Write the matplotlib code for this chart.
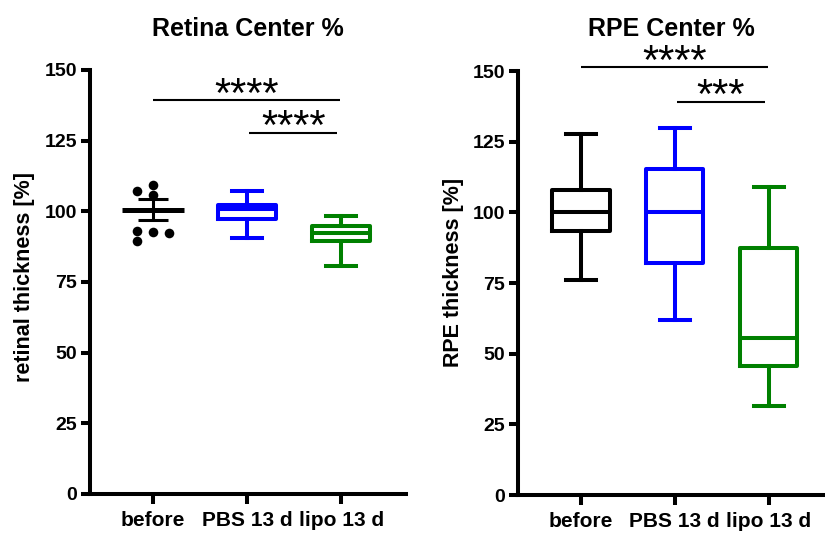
import matplotlib
matplotlib.use("Agg")
import matplotlib.pyplot as plt

plt.rcParams['font.family'] = ['Liberation Sans', 'DejaVu Sans']
plt.rcParams['font.weight'] = 'bold'

# ---- data ----
groups = ["before", "PBS 13 d", "lipo 13 d"]
colors = ["#000000", "#0000FF", "#008000"]

# Retina: individual values of the "before" group (x jitter, value)
retina_before_x = [-0.17, 0.0, 0.0, -0.17, 0.0, 0.17, -0.17]
retina_before_y = [107.3, 109.3, 105.8, 93.0, 92.6, 92.2, 89.5]
retina_before_mean = 100.5
retina_before_sem = 3.7

# Retina boxes for PBS and lipo: whislo, q1, med, q3, whishi
retina_pbs = [90.7, 97.4, 101.0, 102.4, 107.3]
retina_lipo = [80.7, 89.4, 92.5, 94.9, 98.3]

# RPE boxes: whislo, q1, med, q3, whishi
rpe_before = [76.1, 93.4, 100.0, 107.9, 127.6]
rpe_pbs = [61.9, 82.0, 100.0, 115.5, 129.9]
rpe_lipo = [31.5, 45.7, 55.4, 87.5, 109.1]

# significance brackets: (x start, x end, y, label)
retina_sig = [(0, 1.99, 139.3, "****"), (1.02, 1.96, 127.8, "****")]
rpe_sig = [(0, 1.99, 151.4, "****"), (1.02, 1.96, 139.1, "***")]

W, H = 825, 534
fig = plt.figure(figsize=(W / 100, H / 100), dpi=100)

LW = 2.9


def make_axes(rect, xlim):
    ax = fig.add_axes(rect)
    ax.set_xlim(*xlim)
    ax.set_ylim(0, 150)
    for s in ("top", "right"):
        ax.spines[s].set_visible(False)
    for s in ("left", "bottom"):
        ax.spines[s].set_linewidth(LW)
        ax.spines[s].set_capstyle("projecting")
    ax.set_yticks([0, 25, 50, 75, 100, 125, 150])
    ax.set_xticks(range(len(groups)))
    ax.set_xticklabels(groups)
    ax.tick_params(axis="y", length=6.5, width=LW, labelsize=14, pad=3)
    ax.tick_params(axis="x", length=7, width=LW, labelsize=15, pad=5)
    for lab in ax.get_xticklabels() + ax.get_yticklabels():
        lab.set_fontweight("bold")
    ax.patch.set_alpha(0)
    return ax


def box_stats(vals, label):
    lo, q1, med, q3, hi = vals
    return dict(whislo=lo, q1=q1, med=med, q3=q3, whishi=hi, fliers=[], label=label)


def draw_box(ax, vals, pos, color):
    st = [box_stats(vals, "")]
    props = dict(color=color, linewidth=LW)
    ax.bxp(st, positions=[pos], widths=0.61, capwidths=0.32, showfliers=False,
           boxprops=props, whiskerprops=props, capprops=props,
           medianprops=props, manage_ticks=False)


def draw_sig(ax, sig):
    for x0, x1, y, txt in sig:
        ax.plot([x0, x1], [y, y], color="black", lw=1.5, clip_on=False,
                solid_capstyle="butt")
        ax.text((x0 + x1) / 2, y - 2.3, txt, ha="center", va="baseline",
                fontsize=30, fontweight="normal", clip_on=False)


# ---- Retina panel ----
axL = make_axes([90 / W, (H - 494) / H, 316 / W, 424 / H], (-0.67, 2.69))
axL.scatter(retina_before_x, retina_before_y, s=48, color="black", zorder=3,
            linewidths=0)
axL.plot([-0.33, 0.33], [retina_before_mean] * 2, color="black", lw=3.6,
         solid_capstyle="butt")
axL.errorbar([0], [retina_before_mean], yerr=[retina_before_sem], fmt="none",
             ecolor="black", elinewidth=2.2, capsize=11, capthick=2.2)
draw_box(axL, retina_pbs, 1, colors[1])
draw_box(axL, retina_lipo, 2, colors[2])
draw_sig(axL, retina_sig)

# ---- RPE panel ----
axR = make_axes([518 / W, (H - 495) / H, (W - 518) / W, 424 / H], (-0.67, 2.6))
for i, vals in enumerate([rpe_before, rpe_pbs, rpe_lipo]):
    draw_box(axR, vals, i, colors[i])
draw_sig(axR, rpe_sig)

# titles and axis labels
axL.text(0.5, (H - 36 - (H - 494)) / 424, "Retina Center %", transform=axL.transAxes,
         ha="center", va="baseline", fontsize=18, fontweight="bold")
axR.text(0.5, (H - 36 - (H - 495)) / 424, "RPE Center %", transform=axR.transAxes,
         ha="center", va="baseline", fontsize=18, fontweight="bold")
fig.text(25 / W, (H - 276.5) / H, "retinal thickness [%]", rotation=90,
         ha="center", va="center", fontsize=15.5, fontweight="bold")
fig.text(453 / W, (H - 272.5) / H, "RPE thickness [%]", rotation=90,
         ha="center", va="center", fontsize=15.5, fontweight="bold")

fig.savefig("out.png", dpi=100)
